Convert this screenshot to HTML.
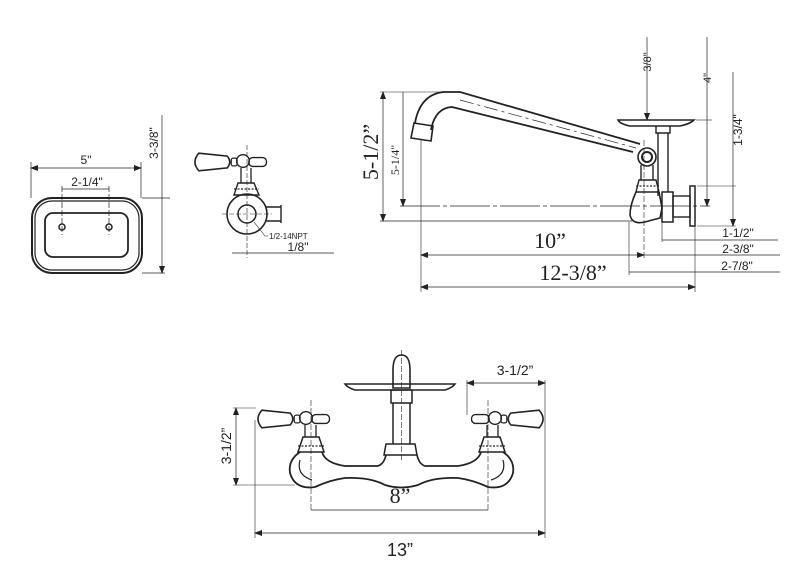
<!DOCTYPE html>
<html><head><meta charset="utf-8"><style>
html,body{margin:0;padding:0;background:#fff;}
svg{display:block;}
text{font-family:"Liberation Sans",sans-serif;fill:#222;}
.s{font-family:"Liberation Serif",serif;}
</style></head><body>
<svg width="800" height="585" viewBox="0 0 800 585" xmlns="http://www.w3.org/2000/svg">
<defs>
<marker id="a" markerWidth="8" markerHeight="6" refX="7" refY="3" orient="auto-start-reverse" markerUnits="userSpaceOnUse"><path d="M0,0 L8,3 L0,6 z" fill="#222"/></marker>
<g id="hl">
<path d="M7,-9 L36,-6 Q41,0 36,6 L7,9 Q-1,0 7,-9 Z" stroke-width="1.6"/>
<rect x="40" y="-4" width="6" height="8" rx="2" stroke-width="1.3"/>
<circle cx="52" cy="-1" r="6.5" stroke-width="1.4"/>
<rect x="58" y="-4.5" width="18" height="9" rx="4" stroke-width="1.4"/>
</g>
</defs>
<g stroke="#222" fill="none" stroke-width="1">
<!-- soap dish -->
<rect x="32" y="198" width="110" height="75" rx="20" stroke-width="2"/>
<rect x="35" y="201" width="104" height="69" rx="17" stroke-width="1.2"/>
<rect x="45" y="213" width="83" height="44" rx="8" stroke-width="1.8"/>
<circle cx="62" cy="227" r="3" stroke-width="1.5"/>
<circle cx="109" cy="227" r="3" stroke-width="1.5"/>
<line x1="31" y1="162" x2="31" y2="198" stroke-width="0.7"/>
<line x1="141" y1="162" x2="141" y2="198" stroke-width="0.7"/>
<line x1="31" y1="168" x2="141" y2="168" stroke-width="0.7" marker-start="url(#a)" marker-end="url(#a)"/>
<line x1="62" y1="186" x2="62" y2="235" stroke-width="0.7" stroke-dasharray="6,2"/>
<line x1="109" y1="186" x2="109" y2="235" stroke-width="0.7" stroke-dasharray="6,2"/>
<line x1="62" y1="189" x2="109" y2="189" stroke-width="0.7"/>
<line x1="162" y1="115" x2="162" y2="273" stroke-width="0.7" marker-end="url(#a)"/>
<line x1="142" y1="198" x2="170" y2="198" stroke-width="0.7"/>
<line x1="142" y1="273" x2="165" y2="273" stroke-width="0.7"/>

<!-- side handle -->
<g transform="translate(192,162) scale(0.98)"><use href="#hl"/></g>
<path d="M241,168 L241,183 M251,168 L251,183" stroke-width="1.3"/>
<path d="M238,183 L254,183 L259,195 L234,195 Z" stroke-width="1.4"/>
<line x1="234" y1="189" x2="259" y2="189" stroke-width="1.2" stroke-dasharray="2,1.5"/>
<circle cx="247" cy="214" r="20" stroke-width="1.6"/>
<circle cx="247" cy="214" r="9" stroke-width="1.5"/>
<path d="M266,207 L281,207 M266,221 L281,221 M281,205 L281,223" stroke-width="1.4"/>
<line x1="247" y1="145" x2="247" y2="258" stroke-width="0.6" stroke-dasharray="5,2"/>
<line x1="222" y1="214" x2="272" y2="214" stroke-width="0.6" stroke-dasharray="5,2"/>
<path d="M254,222 L265,236 L268,236" stroke-width="0.6"/>
<line x1="232" y1="253" x2="334" y2="253" stroke-width="0.7"/>

<!-- spout side view -->
<path d="M415,123 Q420,95 443,92 L460,92 L640,144" stroke-width="1.8"/>
<path d="M431,130 Q435,108 452,107 L633,152" stroke-width="1.8"/>
<path d="M460,100 L636,148" stroke-width="0.7" stroke-dasharray="14,4,3,4"/>
<path d="M414,123 L433,126 L431,141 L411,138 Z" stroke-width="1.6"/>
<circle cx="647" cy="157" r="9" stroke-width="1.6"/>
<circle cx="647" cy="157" r="5" stroke-width="2"/>
<path d="M641,165 L641,180 M653,165 L653,180" stroke-width="1.4"/>
<path d="M639,180 L656,180 L659,192 L636,192 Z" stroke-width="1.4"/>
<line x1="636" y1="186" x2="659" y2="186" stroke-width="1.2" stroke-dasharray="2,1.5"/>
<path d="M636,192 Q630,205 630,215 Q632,225 645,222 Q652,220 660,218 L662,208 L659,192" stroke-width="1.6"/>
<path d="M618,120 L694,120 Q690,124 680,126 L630,126 Q620,124 618,120 Z" stroke-width="1.6"/>
<path d="M656,126 L656,133 L670,133 L670,126 M658,133 L658,196 M668,133 L668,192" stroke-width="1.4"/>
<rect x="662" y="192" width="11" height="30" stroke-width="1.5"/>
<rect x="673" y="196" width="17" height="21" stroke-width="1.4"/>
<rect x="690" y="186" width="5" height="40" stroke-width="1.5"/>
<!-- spout dims -->
<line x1="383" y1="92" x2="383" y2="221" stroke-width="0.7" marker-start="url(#a)" marker-end="url(#a)"/>
<line x1="380" y1="92" x2="440" y2="92" stroke-width="0.6"/>
<line x1="403" y1="92" x2="403" y2="206" stroke-width="0.7" marker-end="url(#a)"/>
<line x1="400" y1="206" x2="710" y2="206" stroke-width="0.7" stroke-dasharray="40,3,4,3"/>
<line x1="380" y1="221" x2="632" y2="221" stroke-width="0.7"/>
<line x1="421" y1="140" x2="421" y2="292" stroke-width="0.6"/>
<line x1="421" y1="255" x2="644" y2="255" stroke-width="0.8" marker-start="url(#a)" marker-end="url(#a)"/>
<line x1="644" y1="255" x2="780" y2="255" stroke-width="0.7"/>
<line x1="421" y1="287" x2="695" y2="287" stroke-width="0.8" marker-start="url(#a)" marker-end="url(#a)"/>
<line x1="644" y1="140" x2="644" y2="260" stroke-width="0.6" stroke-dasharray="6,2"/>
<line x1="629" y1="222" x2="629" y2="275" stroke-width="0.6"/>
<line x1="662" y1="222" x2="662" y2="242" stroke-width="0.6"/>
<line x1="695" y1="226" x2="695" y2="292" stroke-width="0.6"/>
<line x1="662" y1="240" x2="778" y2="240" stroke-width="0.7"/>
<line x1="629" y1="272" x2="780" y2="272" stroke-width="0.7"/>
<line x1="647" y1="37" x2="647" y2="120" stroke-width="0.7" marker-end="url(#a)"/>
<line x1="707" y1="37" x2="707" y2="206" stroke-width="0.7" marker-end="url(#a)"/>
<line x1="733" y1="72" x2="733" y2="226" stroke-width="0.7" marker-end="url(#a)"/>
<line x1="696" y1="120" x2="712" y2="120" stroke-width="0.6"/>
<line x1="697" y1="186" x2="736" y2="186" stroke-width="0.6"/>
<line x1="697" y1="226" x2="736" y2="226" stroke-width="0.6"/>

<!-- front view -->
<path d="M393,370 Q393,355 401.5,355 Q410,355 410,370 L410,388 L393,388 Z" stroke-width="1.6"/>
<path d="M345,384 L455,384 Q452,388 445,390 L355,390 Q348,388 345,384 Z" stroke-width="1.5"/>
<path d="M391,390 L412,390 L412,403 L391,403 Z" stroke-width="1.5"/>
<path d="M393,403 L393,444 M410,403 L410,444" stroke-width="1.5"/>
<path d="M386,444 L415,444 L417,455 L384,455 Z" stroke-width="1.5"/>
<line x1="401.5" y1="350" x2="401.5" y2="460" stroke-width="0.6" stroke-dasharray="6,2"/>
<!-- body -->
<path d="M322,452 Q325,463 345,466 L378,466 Q384,464 386,455 M417,455 Q419,464 425,466 L458,466 Q478,463 481,452" stroke-width="1.7"/>
<path d="M300,452 Q288,460 290,473 Q295,490 315,487 Q330,480 345,478 Q370,477 385,485 Q401,490 418,485 Q433,477 458,478 Q473,480 488,487 Q508,490 513,473 Q515,460 503,452" stroke-width="1.8"/>
<path d="M300,460 Q296,475 312,480 M503,460 Q507,475 491,480" stroke-width="1.2"/>
<!-- left handle -->
<g transform="translate(255,419) scale(0.98)"><use href="#hl"/></g>
<path d="M305,425 L305,437 M316,425 L316,437" stroke-width="1.3"/>
<path d="M303,437 L319,437 L324,452 L298,452 Z" stroke-width="1.5"/>
<line x1="298" y1="446" x2="324" y2="446" stroke-width="1.3" stroke-dasharray="2,1.5"/>
<line x1="311" y1="400" x2="311" y2="512" stroke-width="0.6" stroke-dasharray="6,2"/>
<!-- right handle -->
<g transform="translate(546,419) scale(-0.98,0.98)"><use href="#hl"/></g>
<path d="M487,425 L487,437 M498,425 L498,437" stroke-width="1.3"/>
<path d="M484,437 L500,437 L505,452 L479,452 Z" stroke-width="1.5"/>
<line x1="479" y1="446" x2="505" y2="446" stroke-width="1.3" stroke-dasharray="2,1.5"/>
<line x1="488" y1="400" x2="488" y2="512" stroke-width="0.6" stroke-dasharray="6,2"/>
<!-- front dims -->
<line x1="236" y1="408" x2="236" y2="485" stroke-width="0.7" marker-start="url(#a)" marker-end="url(#a)"/>
<line x1="233" y1="408" x2="256" y2="408" stroke-width="0.6"/>
<line x1="233" y1="485" x2="295" y2="485" stroke-width="0.6"/>
<line x1="311" y1="510" x2="488" y2="510" stroke-width="0.7"/>
<line x1="255" y1="420" x2="255" y2="538" stroke-width="0.6"/>
<line x1="545" y1="380" x2="545" y2="538" stroke-width="0.6"/>
<line x1="467" y1="380" x2="467" y2="415" stroke-width="0.6"/>
<line x1="467" y1="383" x2="545" y2="383" stroke-width="0.7" marker-start="url(#a)" marker-end="url(#a)"/>
<line x1="255" y1="533" x2="545" y2="533" stroke-width="0.7" marker-start="url(#a)" marker-end="url(#a)"/>
</g>
<!-- texts -->
<text x="86" y="164" font-size="12" text-anchor="middle">5"</text>
<text x="87" y="186" font-size="12" text-anchor="middle">2-1/4"</text>
<text transform="translate(158,143) rotate(-90)" font-size="12" text-anchor="middle">3-3/8"</text>
<text x="269" y="239" font-size="8">1/2-14NPT</text>
<text x="298" y="251" font-size="12" text-anchor="middle">1/8"</text>
<text class="s" transform="translate(378,152) rotate(-90)" font-size="22" text-anchor="middle">5-1/2”</text>
<text class="s" transform="translate(399,160) rotate(-90)" font-size="12" text-anchor="middle">5-1/4"</text>
<text class="s" x="550" y="248" font-size="22" text-anchor="middle">10”</text>
<text class="s" x="573" y="280" font-size="22" text-anchor="middle">12-3/8”</text>
<text transform="translate(651,62) rotate(-90)" font-size="11" text-anchor="middle">3/8"</text>
<text transform="translate(711,78) rotate(-90)" font-size="11" text-anchor="middle">4"</text>
<text transform="translate(742,130) rotate(-90)" font-size="12" text-anchor="middle">1-3/4"</text>
<text x="738" y="237" font-size="12" text-anchor="middle">1-1/2"</text>
<text x="738" y="253" font-size="12" text-anchor="middle">2-3/8"</text>
<text x="737" y="270" font-size="12" text-anchor="middle">2-7/8"</text>
<text x="515" y="375" font-size="14" text-anchor="middle">3-1/2”</text>
<text transform="translate(231,446) rotate(-90)" font-size="14" text-anchor="middle">3-1/2”</text>
<text class="s" x="400" y="503" font-size="22" text-anchor="middle">8”</text>
<text x="400" y="556" font-size="18" text-anchor="middle">13”</text>
</svg>
</body></html>
